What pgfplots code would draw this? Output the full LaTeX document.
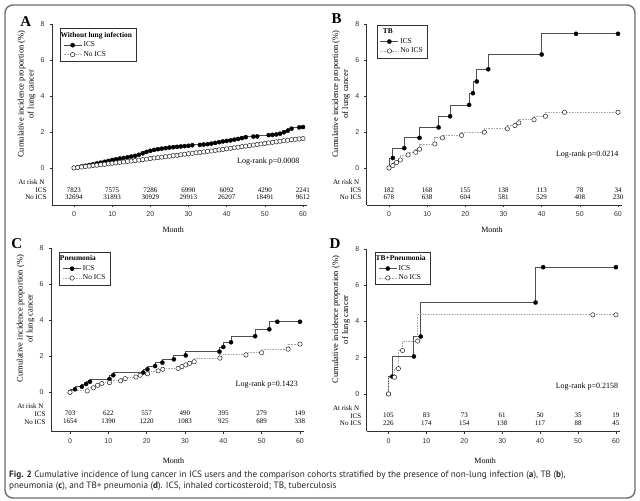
\documentclass[border=0pt]{standalone}
\usepackage{fontspec}
\setmainfont{Liberation Serif}
\newfontfamily\arialfont{Liberation Sans}
\newfontfamily\capfont{PT Sans}
\usepackage{pgfplots}
\pgfplotsset{compat=1.18}

\definecolor{icsline}{HTML}{505050}
\definecolor{noline}{HTML}{A8A8A8}
\definecolor{axisgray}{HTML}{303030}
\definecolor{framegray}{HTML}{6E6E6E}

\pgfplotsset{
  kmpanel/.style={
    scale only axis,
    axis lines=left,
    axis line style={-, axisgray, line width=0.8bp},
    every outer x axis line/.append style={-},
    every outer y axis line/.append style={-},
    ymax=8, xmax=61,
    xtick={0,10,...,60}, ytick={0,2,...,8},
    tick align=outside,
    major tick length=2.5bp,
    tick style={axisgray, line width=0.6bp},
    ticklabel style={font=\arialfont\fontsize{7bp}{8bp}\selectfont, text=axisgray},
    /pgf/number format/assume math mode=true,
    yticklabel style={xshift=-1.5bp},
    xticklabel style={yshift=-1bp},
    clip=false,
    legend cell align=left,
    legend style={draw=axisgray, line width=0.7bp, fill=white,
      font=\fontsize{7.4bp}{8.5bp}\selectfont, anchor=north west,
      inner xsep=3bp, inner ysep=2.2bp, nodes={inner sep=1.5bp}},
    legend image code/.code={\draw[mark repeat=2,mark phase=2,##1] plot coordinates {(0bp,0bp) (9bp,0bp) (18bp,0bp)};},
  },
  icsplot/.style={const plot mark right, icsline, line width=0.8bp,
    mark=*, mark size=2.1bp, mark options={solid, fill=black, draw=black, line width=0.3bp}},
  noplot/.style={const plot mark right, noline, line width=0.8bp, dash pattern=on 0.8bp off 0.8bp,
    mark=*, mark size=2.2bp, mark options={solid, fill=white, draw=black!85, line width=0.5bp}},
  riskrow/.style={forget plot, draw=none, mark=none, nodes near coords, point meta=explicit symbolic,
    nodes near coords style={anchor=center, inner sep=0pt, text=black, font=\fontsize{7bp}{8bp}\selectfont}},
}

% #1 = xmin, #2 = ymin, #3 = month x, #4 = month drop
\newcommand\paneltext[4]{%
  \node[anchor=east, font=\fontsize{7bp}{8bp}\selectfont] at (axis cs:#1,-0.78) [xshift=-4bp] {At risk N};
  \node[anchor=east, font=\fontsize{7bp}{8bp}\selectfont] at (axis cs:#1,-1.22) [xshift=-2bp] {ICS};
  \node[anchor=east, font=\fontsize{7bp}{8bp}\selectfont] at (axis cs:#1,-1.64) [xshift=-2bp] {No ICS};
  \node[xshift=-25.5bp, rotate=90, align=center, font=\fontsize{8.5bp}{10bp}\selectfont]
    at (axis cs:#1,4.1) {Cumulative incidence proportion (\%)\\of lung cancer};
  \node[yshift=-#4, font=\fontsize{8bp}{9bp}\selectfont] at (axis cs:#3,#2) {Month};
}

\begin{document}
\begin{tikzpicture}
\path[use as bounding box, fill=white] (0bp,0bp) rectangle (640bp,501bp);
\draw[framegray, line width=1.4bp, rounded corners=8bp] (5bp,3bp) rectangle (635bp,496bp);

% ---------------- A ----------------
\begin{axis}[kmpanel, at={(52bp,296bp)}, anchor=south west,
  width=254.8bp, height=181.1bp, xmin=-5.76, ymin=-2.06,
  legend style={at={(0.031,0.976)}}]
\addlegendimage{empty legend}
\addlegendentry{\hspace{-23bp}\textbf{Without lung infection}}
\addplot[icsplot] coordinates {
(0,0) (1,0.04) (2,0.08) (3,0.12) (4,0.16) (5,0.2) (6,0.25) (7,0.29) (8,0.34) (9,0.39)
(10,0.44) (11,0.48) (12,0.52) (13,0.55) (14,0.59) (15,0.63) (16,0.67) (17,0.73) (18,0.81) (19,0.89)
(20,0.95) (21,1.0) (22,1.04) (23,1.07) (24,1.1) (25,1.13) (26,1.15) (27,1.17) (28,1.19) (29,1.21)
(30,1.23) (31,1.26) (33,1.28) (34,1.3) (35,1.32) (36,1.35) (37,1.39) (38,1.43) (39,1.47)
(40,1.5) (41,1.53) (42,1.57) (43,1.61) (44,1.66) (45,1.71) (47,1.74) (48,1.75)
(51,1.82) (52,1.84) (53,1.86) (54,1.9) (55,1.98) (56,2.06) (57,2.18) (59,2.25) (60,2.27)};
\addlegendentry{ICS}
\addplot[noplot] coordinates {
(0,0) (1,0.03) (2,0.05) (3,0.08) (4,0.1) (5,0.13) (6,0.15) (7,0.18) (8,0.2) (9,0.23)
(10,0.26) (11,0.28) (12,0.31) (13,0.33) (14,0.36) (15,0.38) (16,0.41) (17,0.43) (18,0.46) (19,0.49)
(20,0.52) (21,0.55) (22,0.57) (23,0.6) (24,0.62) (25,0.65) (26,0.68) (27,0.7) (28,0.73) (29,0.76)
(30,0.79) (31,0.81) (32,0.84) (33,0.86) (34,0.89) (35,0.92) (36,0.94) (37,0.97) (38,1.0) (39,1.03)
(40,1.06) (41,1.09) (42,1.12) (43,1.15) (44,1.18) (45,1.21) (46,1.24) (47,1.27) (48,1.3) (49,1.33)
(50,1.36) (51,1.39) (52,1.42) (53,1.45) (54,1.48) (55,1.51) (56,1.54) (57,1.57) (58,1.59) (59,1.61) (60,1.63)};
\addlegendentry{No ICS}
\addplot[riskrow] table[meta=n] {
x y n
0 -1.22 7823
10 -1.22 7575
20 -1.22 7286
30 -1.22 6990
40 -1.22 6092
50 -1.22 4290
60 -1.22 2241
0 -1.64 32694
10 -1.64 31893
20 -1.64 30929
30 -1.64 29913
40 -1.64 26207
50 -1.64 18491
60 -1.64 9612
};
\paneltext{-5.76}{-2.06}{26}{25bp}
\node[anchor=east, font=\fontsize{8bp}{9bp}\selectfont] at (axis cs:60,0.33) {Log-rank p=0.0008};
\end{axis}

% ---------------- B ----------------
\begin{axis}[kmpanel, at={(366.7bp,296bp)}, anchor=south west,
  width=255.1bp, height=181.1bp, xmin=-5.84, ymin=-2.06,
  legend style={at={(0.039,0.994)}}]
\addlegendimage{empty legend}
\addlegendentry{\hspace{-23bp}\textbf{TB}}
\addplot[icsplot] coordinates {
(0,0) (1,0.55) (4,1.1) (8,1.67) (13,2.25) (16,2.87) (21,3.5) (22,4.15) (23,4.8) (26,5.48) (40,6.3) (49,7.45) (60,7.45)};
\addlegendentry{ICS}
\addplot[noplot] coordinates {
(0,0) (1,0.13) (2,0.3) (3,0.44) (5,0.72) (7,0.87) (8,1.04) (12,1.33) (14,1.67) (19,1.81) (25,1.98)
(31,2.17) (33,2.35) (34,2.5) (38,2.68) (41,2.87) (46,3.09) (60,3.09)};
\addlegendentry{No ICS}
\addplot[riskrow] table[meta=n] {
x y n
0 -1.22 182
10 -1.22 168
20 -1.22 155
30 -1.22 138
40 -1.22 113
50 -1.22 78
60 -1.22 34
0 -1.64 678
10 -1.64 638
20 -1.64 604
30 -1.64 581
40 -1.64 529
50 -1.64 408
60 -1.64 230
};
\paneltext{-5.84}{-2.06}{27}{25bp}
\node[anchor=east, font=\fontsize{8bp}{9bp}\selectfont] at (axis cs:61,0.72) {Log-rank p=0.0214};
\end{axis}

% ---------------- C ----------------
\begin{axis}[kmpanel, at={(51bp,69.6bp)}, anchor=south west,
  width=252.8bp, height=183.1bp, xmin=-4.96, ymin=-2.17,
  legend style={at={(0.033,0.981)}}]
\addlegendimage{empty legend}
\addlegendentry{\hspace{-23bp}\textbf{Pneumonia}}
\addplot[icsplot] coordinates {
(0,0) (1.3,0.17) (3.1,0.31) (4.2,0.46) (5.2,0.59) (10.3,0.74) (11.3,0.95) (19.1,1.1) (20.2,1.28)
(22.2,1.46) (24.1,1.65) (27.1,1.83) (30.2,2.05) (39,2.26) (40,2.52) (42,2.78) (48.3,3.12) (52,3.5) (54.1,3.92) (60,3.92)};
\addlegendentry{ICS}
\addplot[noplot] coordinates {
(0,0) (4.5,0.08) (6.1,0.25) (7.2,0.39) (8.3,0.49) (10.3,0.54) (13.2,0.64) (14.4,0.76) (17.2,0.85) (18.3,0.95)
(20.2,1.03) (23,1.19) (24.2,1.28) (28.2,1.33) (29.2,1.43) (30.2,1.52) (31.2,1.61) (32.4,1.7) (39.1,1.9)
(45.9,2.08) (50,2.2) (56.9,2.4) (60,2.68)};
\addlegendentry{No ICS}
\addplot[riskrow] table[meta=n] {
x y n
0 -1.18 703
10 -1.18 622
20 -1.18 557
30 -1.18 490
40 -1.18 395
50 -1.18 279
60 -1.18 149
0 -1.6 1654
10 -1.6 1390
20 -1.6 1220
30 -1.6 1083
40 -1.6 925
50 -1.6 689
60 -1.6 338
};
\paneltext{-4.96}{-2.17}{27}{29.5bp}
\node[anchor=east, font=\fontsize{8bp}{9bp}\selectfont] at (axis cs:60.4,0.41) {Log-rank p=0.1423};
\end{axis}

% ---------------- D ----------------
\begin{axis}[kmpanel, at={(366.7bp,69.6bp)}, anchor=south west,
  width=253bp, height=182.3bp, xmin=-5.75, ymin=-2.07,
  legend style={at={(0.033,0.986)}}]
\addlegendimage{empty legend}
\addlegendentry{\hspace{-23bp}\textbf{TB+Pneumonia}}
\addplot[icsplot] coordinates {
(0,0) (1,0.96) (6.7,2.07) (8.5,3.17) (38.8,5.05) (40.8,7.0) (60,7.0)};
\addlegendentry{ICS}
\addplot[noplot] coordinates {
(0,0) (1.6,0.92) (2.6,1.4) (3.7,2.4) (7.7,2.92) (53.9,4.37) (60,4.37)};
\addlegendentry{No ICS}
\addplot[riskrow] table[meta=n] {
x y n
0 -1.18 105
10 -1.18 83
20 -1.18 73
30 -1.18 61
40 -1.18 50
50 -1.18 35
60 -1.18 19
0 -1.6 226
10 -1.6 174
20 -1.6 154
30 -1.6 138
40 -1.6 117
50 -1.6 88
60 -1.6 45
};
\paneltext{-5.75}{-2.07}{25.5}{29.5bp}
\node[anchor=east, font=\fontsize{8bp}{9bp}\selectfont] at (axis cs:61.5,0.4) {Log-rank p=0.2158};
\end{axis}

% panel letters
\node[font=\bfseries\fontsize{15bp}{15bp}\selectfont] at (25.8bp,479.3bp) {A};
\node[font=\bfseries\fontsize{15bp}{15bp}\selectfont] at (336.7bp,482.7bp) {B};
\node[font=\bfseries\fontsize{15bp}{15bp}\selectfont] at (16.7bp,257.7bp) {C};
\node[font=\bfseries\fontsize{15bp}{15bp}\selectfont] at (335bp,257.7bp) {D};

% caption
\node[anchor=west, align=left, inner sep=0pt, text=black!85,
  font=\capfont\fontsize{9.2bp}{11.5bp}\selectfont] at (9bp,20.3bp)
  {\textbf{Fig. 2} Cumulative incidence of lung cancer in ICS users and the comparison cohorts stratified by the presence of non-lung infection (\textbf{a}), TB (\textbf{b}),\\
   pneumonia (\textbf{c}), and TB+ pneumonia (\textbf{d}). ICS, inhaled corticosteroid; TB, tuberculosis};
\end{tikzpicture}
\end{document}
